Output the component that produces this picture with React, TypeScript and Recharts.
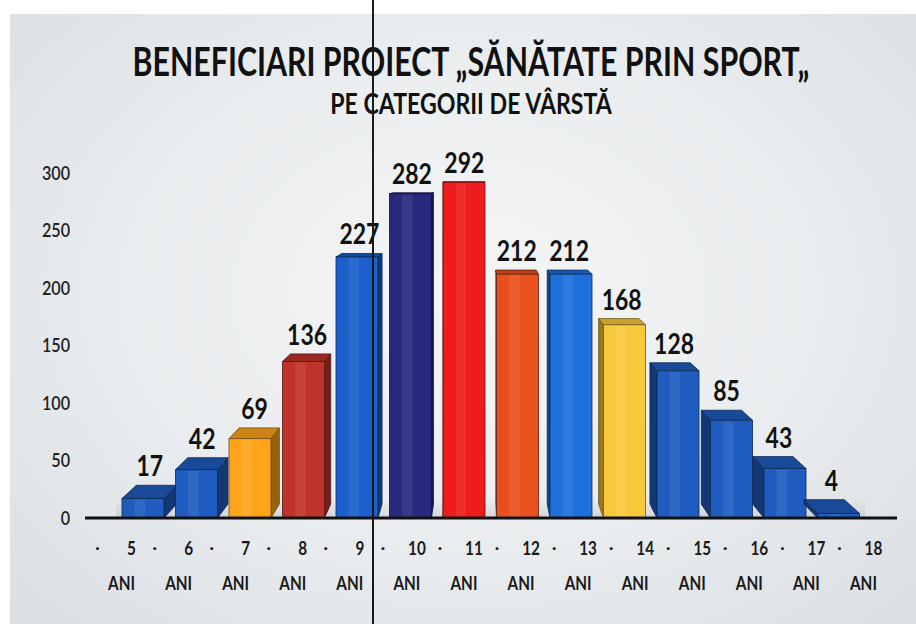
import { BarChart, Bar, XAxis, YAxis, LabelList, ReferenceArea } from "recharts";

const AGES = ["5", "6", "7", "8", "9", "10", "11", "12", "13", "14", "15", "16", "17", "18"];
const BENEFICIARI = [17, 42, 69, 136, 227, 282, 292, 212, 212, 168, 128, 85, 43, 4];
const BAR_COLORS = [
  "#1f5cc0", "#1f5cc0", "#ffa41a", "#c0332a", "#1b5fcb", "#28297c", "#ee1c1c",
  "#e8511e", "#1d6fd9", "#f7c93a", "#1f5cc0", "#1f5cc0", "#1f5cc0", "#1f5cc0",
];
const Y_TICKS = [0, 50, 100, 150, 200, 250, 300];

const data = AGES.map((age, i) => ({ age, value: BENEFICIARI[i] }));

// vanishing point for the fake 3D look
const VP = { x: 480, y: 170 };
const DEPTH = 0.04;
const FONT = "Lato, 'Open Sans', sans-serif";

function shade(hex: string, f: number) {
  const n = parseInt(hex.slice(1), 16);
  const c = (v: number) => Math.max(0, Math.min(255, Math.round(v * f)));
  return `rgb(${c((n >> 16) & 255)},${c((n >> 8) & 255)},${c(n & 255)})`;
}

function back(px: number, py: number) {
  return [px + (VP.x - px) * DEPTH, py + (VP.y - py) * DEPTH];
}

const pts = (arr: number[][]) => arr.map((p) => p.join(",")).join(" ");

function Bar3D(props: any) {
  const { x, y, width, height, index } = props;
  const col = BAR_COLORS[index];
  const x0 = x, x1 = x + width, y0 = y, y1 = y + height;
  const bTL = back(x0, y0), bTR = back(x1, y0), bBL = back(x0, y1), bBR = back(x1, y1);
  const rightSide = bTR[0] > x1;
  const side = rightSide
    ? [[x1, y0], bTR, bBR, [x1, y1]]
    : [[x0, y0], bTL, bBL, [x0, y1]];
  const top = [[x0, y0], [x1, y0], bTR, bTL];
  const edge = shade(col, 0.45);
  return (
    <g>
      <polygon points={pts(side)} fill={shade(col, 0.6)} stroke={edge} strokeWidth={0.8} />
      <polygon points={pts(top)} fill={shade(col, 0.8)} stroke={edge} strokeWidth={0.8} />
      <rect x={x0} y={y0} width={width} height={height} fill={col} stroke={edge} strokeWidth={0.8} />
      <rect x={x0 + width * 0.3} y={y0 + 1} width={width * 0.25} height={Math.max(0, height - 2)} fill="#ffffff" opacity={0.08} />
    </g>
  );
}

function ValueLabel(props: any) {
  const { x, y, width, value } = props;
  const cx = x + width / 2;
  const b = back(cx, y);
  return (
    <text
      transform={`translate(${(cx + b[0]) / 2},${b[1] - 9}) scale(0.82,1)`}
      textAnchor="middle"
      fontFamily={FONT}
      fontWeight={700}
      fontSize={28}
      fill="#111"
    >
      {value}
    </text>
  );
}

function YTick(props: any) {
  const { x, y, payload } = props;
  return (
    <text
      transform={`translate(${x},${y}) scale(0.85,1)`}
      textAnchor="end"
      dy="0.35em"
      fontFamily={FONT}
      fontWeight={600}
      fontSize={19}
      fill="#222"
    >
      {payload.value}
    </text>
  );
}

function AgeTick(props: any) {
  const { x, y, payload } = props;
  return (
    <g fontFamily={FONT} fontWeight={700} fill="#1a1a1a">
      <text x={x - 24} y={y + 34} textAnchor="middle" fontSize={16}>·</text>
      <text transform={`translate(${x + 10},${y + 36}) scale(0.85,1)`} textAnchor="middle" fontSize={18}>
        {payload.value}
      </text>
      <text transform={`translate(${x},${y + 71}) scale(0.85,1)`} textAnchor="middle" fontSize={18}>
        ANI
      </text>
    </g>
  );
}

export default function App() {
  return (
    <div style={{ position: "absolute", left: 0, top: 0, width: 916, height: 624, overflow: "hidden", background: "#fff" }}>
      <div
        style={{
          position: "absolute", left: 10, top: 14, width: 920, height: 620,
          background: "radial-gradient(ellipse at 50% 45%, #f4f5f6 0%, #e9ecee 55%, #d9dee3 100%)",
        }}
      />
      <div style={{ position: "absolute", left: 0, top: 0 }}>
        <BarChart width={916} height={624} data={data} margin={{ top: 173, right: 19, bottom: 0, left: 0 }} barSize={42}>
          <defs>
            <linearGradient id="floorFill" x1="0" y1="0" x2="0" y2="1">
              <stop offset="0%" stopColor="#b8bcc0" stopOpacity={0} />
              <stop offset="100%" stopColor="#a9adb1" stopOpacity={0.75} />
            </linearGradient>
          </defs>
          <YAxis
            domain={[0, 300]}
            ticks={Y_TICKS}
            width={85}
            axisLine={false}
            tickLine={false}
            tickSize={0}
            tickMargin={15}
            tick={<YTick />}
          />
          <XAxis
            dataKey="age"
            height={1}
            tick={false}
            tickLine={false}
            axisLine={{ stroke: "#111", strokeWidth: 3 }}
            padding={{ left: 31, right: 32 }}
          />
          <XAxis
            xAxisId="lbl"
            dataKey="age"
            height={105}
            axisLine={false}
            tickLine={false}
            tickSize={0}
            tickMargin={0}
            interval={0}
            padding={{ left: 8, right: 5 }}
            tick={<AgeTick />}
          />
          <ReferenceArea y1={0} y2={18} x1="5" x2="18" fill="url(#floorFill)" stroke="none" ifOverflow="hidden" />
          <Bar dataKey="value" isAnimationActive={false} shape={<Bar3D />}>
            <LabelList dataKey="value" content={<ValueLabel />} />
          </Bar>
        </BarChart>
      </div>
      <svg width={916} height={140} style={{ position: "absolute", left: 0, top: 0 }}>
        <text
          transform="translate(471,76) scale(0.72,1)"
          textAnchor="middle"
          fontFamily={FONT}
          fontWeight={700}
          fontSize={40}
          fill="#111"
          textLength={940}
          lengthAdjust="spacingAndGlyphs"
        >
          BENEFICIARI PROIECT „SĂNĂTATE PRIN SPORT„
        </text>
        <text
          transform="translate(471,114) scale(0.8,1)"
          textAnchor="middle"
          fontFamily={FONT}
          fontWeight={700}
          fontSize={28}
          fill="#111"
          textLength={352}
          lengthAdjust="spacingAndGlyphs"
        >
          PE CATEGORII DE VÂRSTĂ
        </text>
      </svg>
      <div style={{ position: "absolute", left: 372, top: 0, width: 1.5, height: 624, background: "#1a1a1a" }} />
    </div>
  );
}
